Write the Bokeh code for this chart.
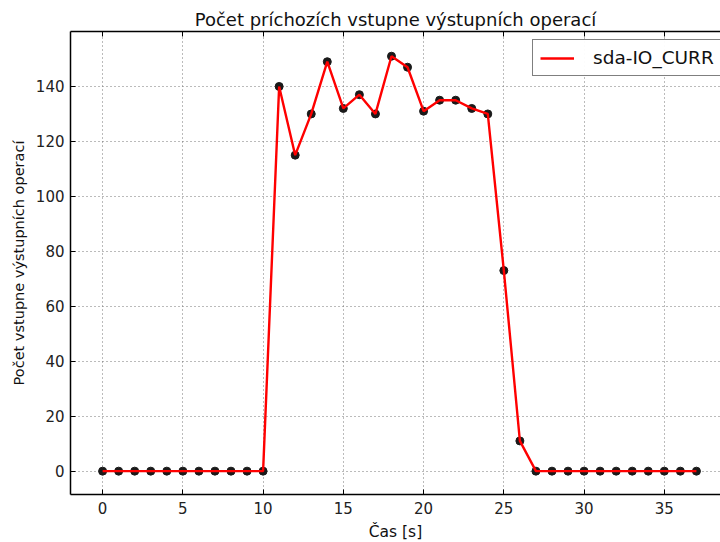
from bokeh.plotting import figure
from bokeh.models import ColumnDataSource, LinearAxis, Range1d, FixedTicker, Legend, LegendItem
from bokeh.embed import file_html
from bokeh.resources import INLINE

time_s = list(range(0, 38))
io_curr = [0, 0, 0, 0, 0, 0, 0, 0, 0, 0, 0,
           140, 115, 130, 149, 132, 137, 130, 151, 147, 131,
           135, 135, 132, 130, 73, 11,
           0, 0, 0, 0, 0, 0, 0, 0, 0, 0, 0]
x_ticks = [0, 5, 10, 15, 20, 25, 30, 35]
y_ticks = [0, 20, 40, 60, 80, 100, 120, 140]

FONT = "DejaVu Sans"
src = ColumnDataSource(dict(x=time_s, y=io_curr))

p = figure(frame_width=650, frame_height=463, output_backend="svg", toolbar_location=None,
           x_range=Range1d(-2, 38.5), y_range=Range1d(-8.5, 160),
           min_border_left=70, min_border_right=0, min_border_top=31, min_border_bottom=10,
           x_axis_label="Čas [s]", y_axis_label="Počet vstupne výstupních operací")
p.outline_line_color = None
p.background_fill_color = "white"
p.border_fill_color = "white"

p.title.text = "Počet príchozích vstupne výstupních operací"
p.title.align = "center"
p.title.text_font = FONT
p.title.text_font_size = "18px"
p.title.text_font_style = "normal"
p.title.text_color = "#111111"
p.title.standoff = 3
p.title.offset = 0

for ax in (p.xaxis[0], p.yaxis[0]):
    ax.major_label_text_font = FONT
    ax.major_label_text_font_size = "15px"
    ax.major_label_text_color = "#222222"
    ax.axis_label_text_font = FONT
    ax.axis_label_text_font_style = "normal"
    ax.axis_label_text_color = "#111111"
    ax.axis_line_color = "black"
    ax.axis_line_width = 1.5
    ax.major_tick_in = 5
    ax.major_tick_out = 0
    ax.minor_tick_line_color = None
p.xaxis[0].axis_label_text_font_size = "15.5px"
p.yaxis[0].axis_label_text_font_size = "14.5px"
p.xaxis[0].ticker = FixedTicker(ticks=x_ticks)
p.yaxis[0].ticker = FixedTicker(ticks=y_ticks)
p.xaxis[0].major_label_standoff = 7
p.xaxis[0].axis_label_standoff = 6
p.yaxis[0].major_label_standoff = 6
p.yaxis[0].axis_label_standoff = 6

top = LinearAxis(ticker=FixedTicker(ticks=x_ticks),
                 major_label_overrides={t: "" for t in x_ticks},
                 major_tick_in=5, major_tick_out=0, minor_tick_line_color=None,
                 axis_line_color="black", axis_line_width=1.5, major_label_standoff=0)
p.add_layout(top, "above")

for g in (p.xgrid[0], p.ygrid[0]):
    g.grid_line_color = "#777777"
    g.grid_line_dash = "1 3"
    g.grid_line_width = 1
p.xgrid[0].ticker = FixedTicker(ticks=x_ticks)
p.ygrid[0].ticker = FixedTicker(ticks=y_ticks)

p.scatter("x", "y", source=src, size=8, fill_color="#1a1a1a", line_color="#1a1a1a", line_width=1)
ln = p.line("x", "y", source=src, line_color="red", line_width=2.4)

legend = Legend(items=[LegendItem(label="sda-IO_CURR", renderers=[ln])], location=(462, 418))
legend.label_text_font = FONT
legend.label_text_font_size = "18.5px"
legend.label_text_color = "#111111"
legend.border_line_color = "black"
legend.border_line_width = 1
legend.glyph_width = 34
legend.glyph_height = 20
legend.label_height = 20
legend.margin = 0
legend.padding = 7
legend.spacing = 0
legend.label_standoff = 19
p.add_layout(legend)

open("out.html", "w").write(file_html(p, INLINE))
